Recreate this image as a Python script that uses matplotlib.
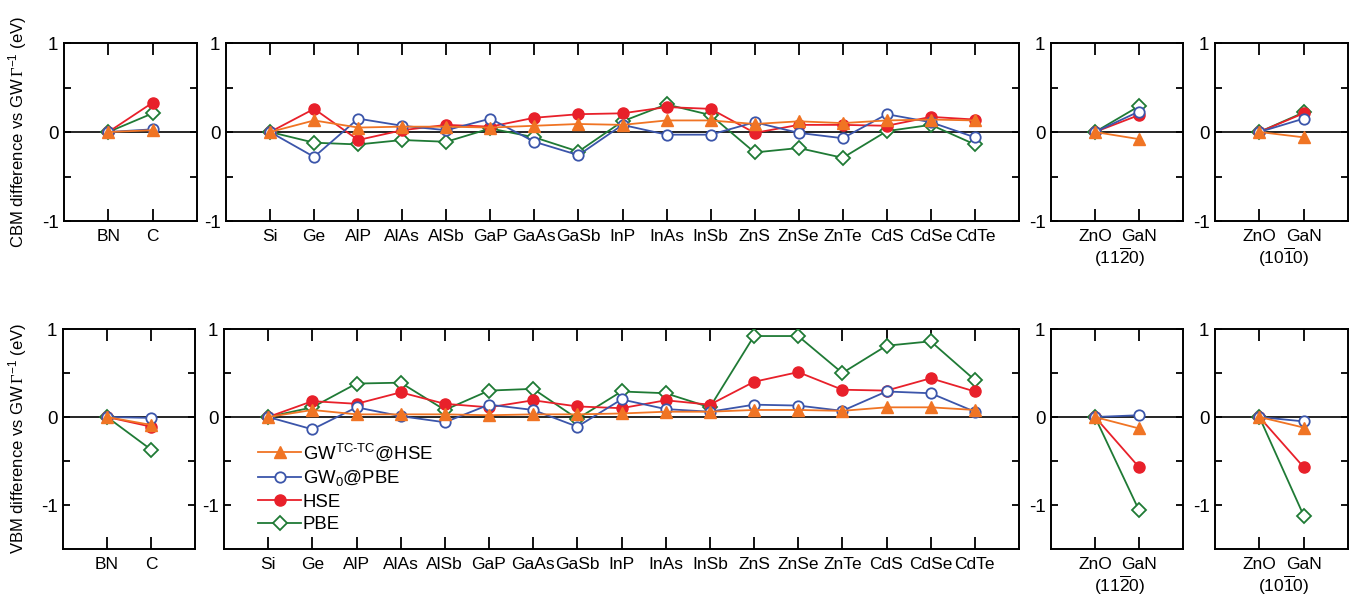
import numpy as np
import matplotlib
matplotlib.use('Agg')
import matplotlib.pyplot as plt

plt.rcParams['font.family'] = 'Liberation Sans'
plt.rcParams['mathtext.fontset'] = 'custom'
plt.rcParams['mathtext.rm'] = 'Liberation Sans'
plt.rcParams['mathtext.it'] = 'Liberation Sans:italic'
plt.rcParams['mathtext.sf'] = 'Liberation Serif'

# compounds in each panel (left to right)
cats_left = ['BN', 'C']
cats_mid = ['Si', 'Ge', 'AlP', 'AlAs', 'AlSb', 'GaP', 'GaAs', 'GaSb', 'InP',
            'InAs', 'InSb', 'ZnS', 'ZnSe', 'ZnTe', 'CdS', 'CdSe', 'CdTe']
cats_wz = ['ZnO', 'GaN']
surfaces = [r'(11$\overline{2}$0)', r'(10$\overline{1}$0)']

# values ordered: BN C | Si..CdTe | ZnO GaN (11-20) | ZnO GaN (10-10)
cbm_gwtc = [0, 0.02,
            0, 0.13, 0.05, 0.06, 0.06, 0.05, 0.07, 0.09, 0.08, 0.13, 0.13,
            0.09, 0.12, 0.10, 0.13, 0.14, 0.13,
            0, -0.08, 0, -0.06]
cbm_gw0 = [0, 0.03,
           0, -0.28, 0.15, 0.07, 0.02, 0.15, -0.11, -0.26, 0.08, -0.03, -0.03,
           0.11, -0.01, -0.07, 0.20, 0.11, -0.06,
           0, 0.23, 0, 0.15]
cbm_hse = [0, 0.33,
           0, 0.26, -0.09, 0.02, 0.08, 0.06, 0.16, 0.20, 0.21, 0.28, 0.26,
           -0.01, 0.08, 0.08, 0.07, 0.17, 0.14,
           0, 0.19, 0, 0.21]
cbm_pbe = [0, 0.21,
           0, -0.12, -0.14, -0.09, -0.11, 0.04, -0.06, -0.22, 0.12, 0.31, 0.19,
           -0.23, -0.18, -0.29, 0.01, 0.08, -0.14,
           0, 0.29, 0, 0.22]

vbm_gwtc = [0, -0.09,
            0, 0.08, 0.03, 0.03, 0.03, 0.02, 0.03, 0.03, 0.04, 0.06, 0.06,
            0.08, 0.08, 0.07, 0.11, 0.11, 0.08,
            0, -0.13, 0, -0.12]
vbm_gw0 = [0, -0.01,
           0, -0.14, 0.11, 0.01, -0.06, 0.14, 0.08, -0.11, 0.20, 0.09, 0.06,
           0.14, 0.13, 0.07, 0.29, 0.27, 0.06,
           0, 0.02, 0, -0.05]
vbm_hse = [0, -0.11,
           0, 0.18, 0.15, 0.28, 0.15, 0.11, 0.19, 0.12, 0.10, 0.19, 0.14,
           0.40, 0.51, 0.31, 0.30, 0.44, 0.29,
           0, -0.57, 0, -0.57]
vbm_pbe = [0, -0.37,
           0, 0.11, 0.38, 0.39, 0.08, 0.30, 0.32, -0.02, 0.29, 0.27, 0.11,
           0.92, 0.92, 0.50, 0.81, 0.86, 0.42,
           0, -1.06, 0, -1.12]

# drawing order: PBE, HSE, GW0, GW(TC-TC)
styles = [
    ('PBE', dict(color='#1f7a35', marker='D', ms=6.8, mfc='white', mew=1.3)),
    ('HSE', dict(color='#e8202a', marker='o', ms=8, mfc='#e8202a', mew=1.0)),
    (r'GW$_0$@PBE', dict(color='#3b55aa', marker='o', ms=7.5, mfc='white', mew=1.3)),
    (r'GW$^{\mathrm{TC}\text{-}\mathrm{TC}}$@HSE',
     dict(color='#f07424', marker='^', ms=8.5, mfc='#f07424', mew=1.0)),
]
cbm = [cbm_pbe, cbm_hse, cbm_gw0, cbm_gwtc]
vbm = [vbm_pbe, vbm_hse, vbm_gw0, vbm_gwtc]

W, H = 1358, 599
fig = plt.figure(figsize=(W / 100, H / 100), dpi=100)


def add_ax(x0, x1, y0, y1):
    return fig.add_axes([x0 / W, 1 - y1 / H, (x1 - x0) / W, (y1 - y0) / H])


panel_x = [[(64, 197), (226, 1019), (1051, 1183), (1215, 1348)],
           [(63, 195), (224, 1019), (1051, 1183), (1215, 1348)]]
row_y = [(43, 221), (329, 549)]
panel_cats = [cats_left, cats_mid, cats_wz, cats_wz]
slices = [slice(0, 2), slice(2, 19), slice(19, 21), slice(21, 23)]

handles = {}
for r, data in enumerate([cbm, vbm]):
    for p in range(4):
        x0, x1 = panel_x[r][p]
        ax = add_ax(x0, x1, *row_y[r])
        cats = panel_cats[p]
        xs = np.arange(len(cats))
        ax.axhline(0, color='black', lw=1.2, zorder=1)
        for (label, st), series in zip(styles, data):
            ln, = ax.plot(xs, series[slices[p]], lw=1.3, label=label, zorder=3, **st)
            handles[label] = ln
        ax.set_xlim(-1, len(cats))
        ax.set_ylim(-1, 1) if r == 0 else ax.set_ylim(-1.5, 1)
        ax.set_xticks(xs)
        ax.set_xticklabels(cats, fontsize=12.5)
        ax.set_yticks([-1, -0.5, 0, 0.5, 1])
        ax.set_yticklabels(['-1', '', '0', '', '1'], fontsize=13.5)
        ax.tick_params(axis='x', direction='in', top=True, length=8.5, width=1.3, pad=6)
        ax.tick_params(axis='y', direction='in', right=True, length=5, width=1.3, pad=4)
        for sp in ax.spines.values():
            sp.set_linewidth(1.4)
        if p >= 2:
            ax.annotate(surfaces[p - 2], xy=(0.55, 0), xycoords=('data', 'axes fraction'),
                        xytext=(0, -26.5), textcoords='offset points',
                        ha='center', va='center', fontsize=12.5)
        if r == 1 and p == 1:
            order = [styles[3][0], styles[2][0], styles[1][0], styles[0][0]]
            ax.legend([handles[k] for k in order], order, loc='upper left',
                      bbox_to_anchor=(0.043, 0.49), frameon=False, fontsize=13.4,
                      handlelength=2.3, handletextpad=0.1, labelspacing=0.3,
                      borderpad=0, borderaxespad=0)

fig.text(18 / W, 1 - 132 / H, r'CBM difference vs GW$\,\mathsf{\Gamma}^{-1}$ (eV)',
         rotation=90, ha='center', va='center', fontsize=12)
fig.text(18 / W, 1 - 439 / H, r'VBM difference vs GW$\,\mathsf{\Gamma}^{-1}$ (eV)',
         rotation=90, ha='center', va='center', fontsize=12)

fig.savefig('out.png', dpi=100)
